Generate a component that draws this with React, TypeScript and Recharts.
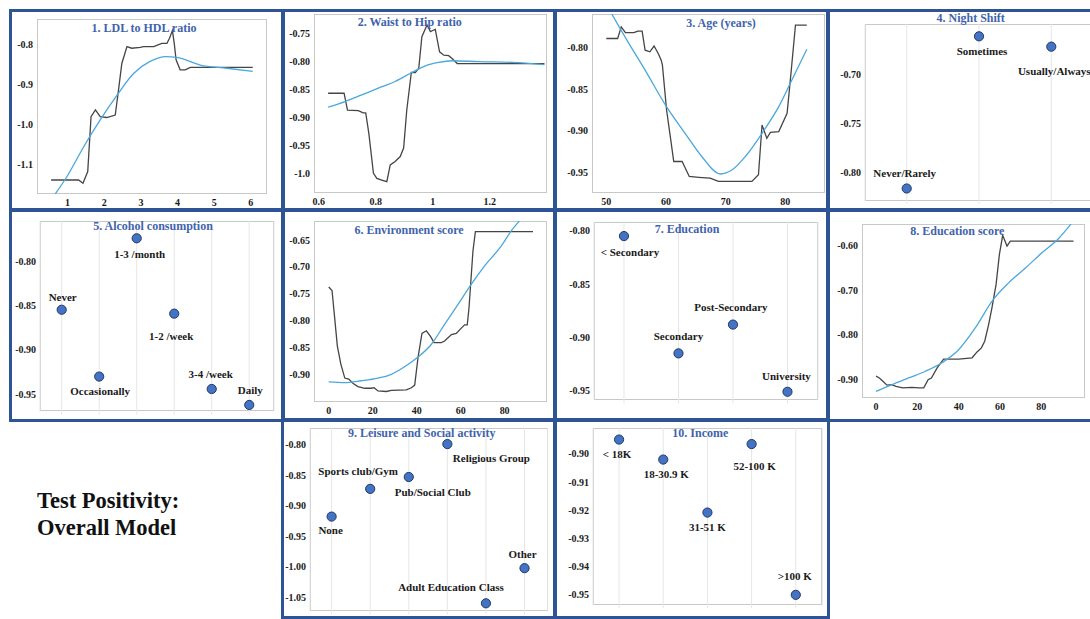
import React from 'react';
import { ComposedChart, Line, Scatter, XAxis, YAxis, CartesianGrid } from 'recharts';

const FONT = "'Liberation Serif', 'Times New Roman', serif";
const BORDER = '#2F5496';
const TITLE = '#3F63AC';
const RAW = '#454545';
const FIT = '#4AA8DD';
const DOT = '#4472C4';
const DOT_EDGE = '#1F3A68';
const FRAME = '#c8c8c8';
const GRID = '#e6e6e6';

// 1. LDL to HDL ratio
const ldlX = [0.55, 1.3, 1.42, 1.55, 1.64, 1.76, 1.89, 2.07, 2.3, 2.39, 2.48, 2.62, 2.75, 2.98, 3.07, 3.35, 3.57, 3.71, 3.78, 3.86, 3.91, 3.96, 4.07, 4.21, 4.35, 4.62, 6.05];
const ldlY = [-1.139, -1.139, -1.147, -1.118, -0.981, -0.964, -0.981, -0.983, -0.977, -0.914, -0.848, -0.806, -0.81, -0.808, -0.806, -0.806, -0.798, -0.798, -0.785, -0.766, -0.798, -0.839, -0.864, -0.864, -0.858, -0.858, -0.858];
const ldlFitX = [0.6, 0.98, 1.44, 1.89, 2.35, 2.8, 3.25, 3.68, 3.98, 4.62, 5.35, 6.05];
const ldlFitY = [-1.182, -1.131, -1.056, -0.989, -0.927, -0.873, -0.843, -0.831, -0.833, -0.852, -0.86, -0.868];

// 2. Waist to Hip ratio
const waistX = [0.633, 0.689, 0.701, 0.739, 0.756, 0.765, 0.776, 0.792, 0.804, 0.821, 0.839, 0.851, 0.868, 0.886, 0.898, 0.909, 0.925, 0.939, 0.951, 0.962, 0.98, 0.992, 1.0, 1.009, 1.024, 1.039, 1.056, 1.068, 1.086, 1.115, 1.392];
const waistY = [-0.857, -0.857, -0.887, -0.888, -0.892, -0.892, -0.929, -1.0, -1.009, -1.012, -1.015, -0.985, -0.979, -0.97, -0.955, -0.887, -0.82, -0.82, -0.8125, -0.756, -0.735, -0.747, -0.745, -0.743, -0.783, -0.789, -0.79, -0.795, -0.804, -0.804, -0.804];
const waistFitX = [0.633, 0.692, 0.751, 0.809, 0.868, 0.927, 0.974, 1.021, 1.068, 1.162, 1.28, 1.392];
const waistFitY = [-0.882, -0.872, -0.86, -0.848, -0.836, -0.82, -0.808, -0.802, -0.799, -0.8006, -0.802, -0.806];

// 3. Age (years)
const ageX = [50, 51.9, 52.5, 53.2, 54.6, 55.3, 56.0, 56.5, 57.3, 58.0, 58.7, 59.2, 59.4, 60.1, 60.8, 61.3, 62.7, 63.9, 65.5, 67.4, 68.8, 71.1, 74.4, 75.5, 76.1, 76.9, 77.5, 78.9, 80.3, 81.0, 81.7, 83.6];
const ageY = [-0.789, -0.789, -0.775, -0.782, -0.782, -0.78, -0.78, -0.803, -0.805, -0.798, -0.807, -0.815, -0.821, -0.875, -0.911, -0.937, -0.937, -0.955, -0.956, -0.957, -0.961, -0.961, -0.961, -0.953, -0.893, -0.909, -0.902, -0.901, -0.879, -0.827, -0.773, -0.773];
const ageFitX = [50.0, 53.7, 56.5, 60, 63.2, 66.0, 69.1, 71.1, 73.3, 76.1, 78.9, 81.1, 83.6];
const ageFitY = [-0.748, -0.794, -0.827, -0.87, -0.903, -0.931, -0.952, -0.947, -0.931, -0.903, -0.871, -0.839, -0.802];

// 6. Environment score
const envX = [0, 1.5, 2.7, 3.9, 5.5, 7.3, 9.1, 11.1, 13.3, 16.4, 19.4, 20.6, 22.4, 26.2, 28.5, 35.3, 37.6, 39.1, 40.6, 42.4, 44.4, 46.2, 47.9, 51.2, 52.7, 55.8, 58.0, 60.3, 61.8, 63.0, 63.8, 65.6, 66.7, 92.9];
const envY = [-0.7375, -0.744, -0.795, -0.847, -0.881, -0.907, -0.909, -0.917, -0.923, -0.926, -0.926, -0.925, -0.931, -0.932, -0.93, -0.929, -0.925, -0.92, -0.869, -0.824, -0.819, -0.829, -0.841, -0.841, -0.838, -0.826, -0.824, -0.814, -0.808, -0.808, -0.776, -0.67, -0.6345, -0.6345];
const envFitX = [0, 7.3, 14.8, 22.4, 28.5, 34.5, 40.6, 46.7, 52.7, 58.8, 64.8, 70.9, 78.5, 83.0, 87.3, 90];
const envFitY = [-0.914, -0.9155, -0.912, -0.907, -0.9, -0.886, -0.868, -0.844, -0.807, -0.77, -0.7325, -0.698, -0.661, -0.633, -0.6115, -0.598];

// 8. Education score
const eduX = [0, 1.6, 3.2, 5.3, 7.4, 9.7, 12.9, 17.4, 20.6, 23.1, 25.2, 26.8, 29.5, 32.7, 40.0, 46.5, 48.9, 51.0, 52.6, 54.5, 56.1, 58.1, 59.7, 61.3, 63.4, 65.0, 95.6];
const eduY = [-0.892, -0.896, -0.903, -0.912, -0.911, -0.915, -0.918, -0.917, -0.918, -0.918, -0.9, -0.896, -0.874, -0.854, -0.854, -0.851, -0.838, -0.829, -0.814, -0.777, -0.74, -0.688, -0.621, -0.578, -0.602, -0.591, -0.591];
const eduFitX = [0, 7.7, 15.8, 23.9, 31.9, 40, 48.1, 56.1, 64.2, 72.3, 80.3, 88.4, 94.5];
const eduFitY = [-0.926, -0.911, -0.896, -0.881, -0.862, -0.833, -0.784, -0.725, -0.684, -0.651, -0.617, -0.585, -0.552];

// categorical panels
const nightCats = ['Never/Rarely', 'Sometimes', 'Usually/Always'];
const nightVals = [-0.816, -0.6615, -0.672];
const nightLabelOff = [[-2, -15], [3, 15], [3, 24]];

const alcoholCats = ['Never', 'Occasionally', '1-3 /month', '1-2 /week', '3-4 /week', 'Daily'];
const alcoholVals = [-0.855, -0.9304, -0.7744, -0.8594, -0.9444, -0.9624];
const alcoholLabelOff = [[1, -13], [1, 14], [3, 16], [-3, 22], [-1, -15], [1, -15]];

const educationCats = ['< Secondary', 'Secondary', 'Post-Secondary', 'University'];
const educationVals = [-0.805, -0.915, -0.888, -0.951];
const educationLabelOff = [[6, 16], [0, -17], [-2, -18], [-1, -16]];

const leisureCats = ['None', 'Sports club/Gym', 'Pub/Social Club', 'Religious Group', 'Adult Education Class', 'Other'];
const leisureVals = [-0.918, -0.8725, -0.853, -0.799, -1.0603, -1.0026];
const leisureLabelOff = [[-1, 13], [-12, -18], [24, 15], [44, 14], [-35, -16], [-2, -14]];

const incomeCats = ['< 18K', '18-30.9 K', '31-51 K', '52-100 K', '>100 K'];
const incomeVals = [-0.8949, -0.902, -0.9208, -0.8965, -0.95];
const incomeLabelOff = [[-2, 14], [3, 14], [0, 14], [3, 22], [-1, -19]];

const toPts = (xs: number[], ys: number[]) => xs.map((x, i) => ({ x, y: ys[i] }));
const toCats = (names: string[], vals: number[], off: number[][]) =>
  names.map((name, i) => ({ x: i, y: vals[i], name, dx: off[i][0], dy: off[i][1] }));

const L = 40;
const T = 6;
const R = 6;
const B = 22;

const tickStyle = { fontFamily: FONT, fontWeight: 'bold', fontSize: 10, fill: '#1a1a1a' } as any;
const fix2 = (v: number) => v.toFixed(2);
const fix1 = (v: number) => v.toFixed(1);
const blank = () => '';

function Title({ text, x, y }: { text: string; x: number; y: number }) {
  return (
    <div
      style={{
        position: 'absolute', left: x, top: y, transform: 'translate(-50%, -50%)',
        fontFamily: FONT, fontWeight: 'bold', fontSize: 12, color: TITLE, whiteSpace: 'nowrap', lineHeight: 1,
      }}
    >
      {text}
    </div>
  );
}

function Frame({ rect }: { rect: number[] }) {
  const [x0, y0, x1, y1] = rect;
  return (
    <div style={{ position: 'absolute', left: x0, top: y0, width: x1 - x0, height: y1 - y0, border: `1px solid ${FRAME}`, boxSizing: 'border-box' }} />
  );
}

function LinePanel(props: any) {
  const { rect, xDomain, yDomain, xTicks, yTicks, xFmt, yFmt, raw, fit } = props;
  const [x0, y0, x1, y1] = rect;
  return (
    <>
      <Frame rect={rect} />
      <div style={{ position: 'absolute', left: x0 - L, top: y0 - T }}>
        <ComposedChart width={x1 - x0 + L + R} height={y1 - y0 + T + B} margin={{ top: T, right: R, bottom: 0, left: 0 }}>
          <XAxis dataKey="x" type="number" domain={xDomain} ticks={xTicks} allowDataOverflow interval={0}
            height={B} axisLine={false} tickLine={false} tickSize={2} tickMargin={3} tick={tickStyle} tickFormatter={xFmt} />
          <XAxis xAxisId="top" orientation="top" dataKey="x" type="number" domain={xDomain} ticks={xTicks} allowDataOverflow interval={0}
            height={0} axisLine={false} tickLine={{ stroke: '#a0a0a0' }} tickSize={3} tickFormatter={blank} />
          <YAxis dataKey="y" type="number" domain={yDomain} ticks={yTicks} allowDataOverflow interval={0}
            width={L} axisLine={false} tickLine={false} tickSize={2} tickMargin={2} tick={tickStyle} tickFormatter={yFmt} />
          <YAxis yAxisId="right" orientation="right" dataKey="y" type="number" domain={yDomain} ticks={yTicks} allowDataOverflow interval={0}
            width={0} axisLine={false} tickLine={{ stroke: '#a0a0a0' }} tickSize={3} tickFormatter={blank} />
          <Line data={raw} dataKey="y" type="linear" stroke={RAW} strokeWidth={1.3} dot={false} isAnimationActive={false} />
          <Line data={fit} dataKey="y" type="monotone" stroke={FIT} strokeWidth={1.3} dot={false} isAnimationActive={false} />
        </ComposedChart>
      </div>
    </>
  );
}

const renderDot = (p: any) => {
  const { cx, cy, payload } = p;
  return (
    <g>
      <circle cx={cx} cy={cy} r={4.6} fill={DOT} stroke={DOT_EDGE} strokeWidth={1} />
      <text x={cx + payload.dx} y={cy + payload.dy} textAnchor="middle" dominantBaseline="central"
        fontFamily={FONT} fontWeight="bold" fontSize={11} fill="#1a1a1a">
        {payload.name}
      </text>
    </g>
  );
};

function DotPanel(props: any) {
  const { rect, xDomain, yDomain, yTicks, points } = props;
  const [x0, y0, x1, y1] = rect;
  const cats = points.map((p: any) => p.x);
  return (
    <>
      <Frame rect={rect} />
      <div style={{ position: 'absolute', left: x0 - L, top: y0 - T }}>
        <ComposedChart width={x1 - x0 + L + R} height={y1 - y0 + T + B} margin={{ top: T, right: R, bottom: 0, left: 0 }}>
          <CartesianGrid horizontal={false} stroke={GRID} />
          <XAxis dataKey="x" type="number" domain={xDomain} ticks={cats} allowDataOverflow interval={0}
            height={B} axisLine={false} tickLine={{ stroke: GRID }} tickSize={3} tickFormatter={blank} />
          <YAxis dataKey="y" type="number" domain={yDomain} ticks={yTicks} allowDataOverflow interval={0}
            width={L} axisLine={false} tickLine={false} tickSize={2} tickMargin={2} tick={tickStyle} tickFormatter={fix2} />
          <YAxis yAxisId="right" orientation="right" dataKey="y" type="number" domain={yDomain} ticks={yTicks} allowDataOverflow interval={0}
            width={0} axisLine={false} tickLine={{ stroke: '#b0b0b0' }} tickSize={3} tickFormatter={blank} />
          <Scatter data={points} dataKey="y" shape={renderDot} isAnimationActive={false} />
        </ComposedChart>
      </div>
    </>
  );
}

const colEdges = [9, 281, 553, 826, 1100];
const rowEdges = [9, 208, 418, 615];

function Box({ c, r }: { c: number; r: number }) {
  return (
    <div
      style={{
        position: 'absolute', left: colEdges[c], top: rowEdges[r],
        width: colEdges[c + 1] - colEdges[c] + 4, height: rowEdges[r + 1] - rowEdges[r] + 4,
        border: `3px solid ${BORDER}`, boxSizing: 'border-box',
      }}
    />
  );
}

export default function App() {
  return (
    <div style={{ position: 'fixed', left: 0, top: 0, width: 1090, height: 619, overflow: 'hidden', background: '#fff' }}>
      <LinePanel rect={[36.7, 19, 266.7, 194]} xDomain={[0.166, 6.44]} yDomain={[-1.174, -0.737]}
        xTicks={[1, 2, 3, 4, 5, 6]} yTicks={[-1.1, -1.0, -0.9, -0.8]} xFmt={(v: number) => String(v)} yFmt={fix1}
        raw={toPts(ldlX, ldlY)} fit={toPts(ldlFitX, ldlFitY)} />
      <LinePanel rect={[314, 14, 547.3, 192.7]} xDomain={[0.5835, 1.402]} yDomain={[-1.0346, -0.7155]}
        xTicks={[0.6, 0.8, 1, 1.2]} yTicks={[-1.0, -0.95, -0.9, -0.85, -0.8, -0.75]} xFmt={(v: number) => String(v)}
        yFmt={(v: number) => (v === -1 ? '-1.0' : v.toFixed(2))}
        raw={toPts(waistX, waistY)} fit={toPts(waistFitX, waistFitY)} />
      <LinePanel rect={[592, 14, 825.3, 192.7]} xDomain={[47.6, 86.7]} yDomain={[-0.9745, -0.7595]}
        xTicks={[50, 60, 70, 80]} yTicks={[-0.95, -0.9, -0.85, -0.8]} xFmt={(v: number) => String(v)} yFmt={fix2}
        raw={toPts(ageX, ageY)} fit={toPts(ageFitX, ageFitY)} />
      <DotPanel rect={[865, 24, 1093, 201]} xDomain={[-0.577, 2.577]} yDomain={[-0.8287, -0.649]}
        yTicks={[-0.8, -0.75, -0.7]} points={toCats(nightCats, nightVals, nightLabelOff)} />

      <DotPanel rect={[40, 220.7, 274, 411.3]} xDomain={[-0.578, 5.66]} yDomain={[-0.9699, -0.7549]}
        yTicks={[-0.95, -0.9, -0.85, -0.8]} points={toCats(alcoholCats, alcoholVals, alcoholLabelOff)} />
      <LinePanel rect={[314, 221.3, 547.3, 402]} xDomain={[-6.7, 99.4]} yDomain={[-0.951, -0.6146]}
        xTicks={[0, 20, 40, 60, 80]} yTicks={[-0.9, -0.85, -0.8, -0.75, -0.7, -0.65]} xFmt={(v: number) => String(v)} yFmt={fix2}
        raw={toPts(envX, envY)} fit={toPts(envFitX, envFitY)} />
      <DotPanel rect={[593.7, 222, 817.7, 400.3]} xDomain={[-0.55, 3.56]} yDomain={[-0.959, -0.7918]}
        yTicks={[-0.95, -0.9, -0.85, -0.8]} points={toCats(educationCats, educationVals, educationLabelOff)} />
      <LinePanel rect={[861.7, 224, 1085, 398]} xDomain={[-6.8, 101.3]} yDomain={[-0.9407, -0.5527]}
        xTicks={[0, 20, 40, 60, 80]} yTicks={[-0.9, -0.8, -0.7, -0.6]} xFmt={(v: number) => String(v)} yFmt={fix2}
        raw={toPts(eduX, eduY)} fit={toPts(eduFitX, eduFitY)} />

      <DotPanel rect={[310.3, 428, 548, 611.3]} xDomain={[-0.56, 5.6]} yDomain={[-1.0734, -0.7726]}
        yTicks={[-1.05, -1.0, -0.95, -0.9, -0.85, -0.8]} points={toCats(leisureCats, leisureVals, leisureLabelOff)} />
      <DotPanel rect={[592.7, 428, 822, 605.3]} xDomain={[-0.59, 4.6]} yDomain={[-0.9537, -0.8908]}
        yTicks={[-0.95, -0.94, -0.93, -0.92, -0.91, -0.9]} points={toCats(incomeCats, incomeVals, incomeLabelOff)} />

      <Title text="1. LDL to HDL ratio" x={144} y={28} />
      <Title text="2. Waist to Hip ratio" x={409.7} y={22.3} />
      <Title text="3. Age (years)" x={721} y={23.3} />
      <Title text="4. Night Shift" x={970.7} y={17.7} />
      <Title text="5. Alcohol consumption" x={153} y={226.3} />
      <Title text="6. Environment score" x={409} y={229.7} />
      <Title text="7. Education" x={687} y={229} />
      <Title text="8. Education score" x={957.3} y={231.3} />
      <Title text="9. Leisure and Social activity" x={421.7} y={433} />
      <Title text="10. Income" x={700.3} y={433} />

      <div style={{ position: 'absolute', left: 37, top: 487, fontFamily: FONT, fontWeight: 'bold', fontSize: 22.5, lineHeight: '27px', color: '#111' }}>
        Test Positivity:
        <br />
        Overall Model
      </div>

      <Box c={0} r={0} />
      <Box c={1} r={0} />
      <Box c={2} r={0} />
      <Box c={3} r={0} />
      <Box c={0} r={1} />
      <Box c={1} r={1} />
      <Box c={2} r={1} />
      <Box c={3} r={1} />
      <Box c={1} r={2} />
      <Box c={2} r={2} />
    </div>
  );
}
